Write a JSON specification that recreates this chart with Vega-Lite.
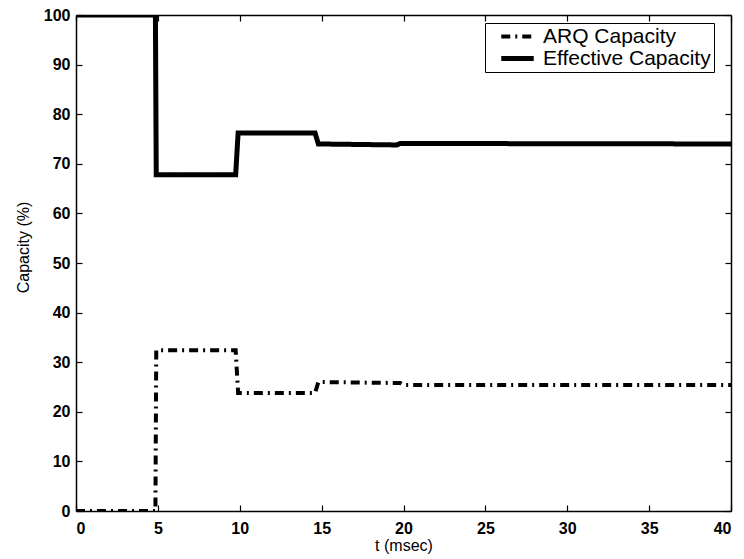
{
  "$schema": "https://vega.github.io/schema/vega-lite/v6.json",
  "width": 655,
  "height": 496,
  "autosize": {"type": "none"},
  "padding": {"left": 76, "top": 15, "right": 13, "bottom": 48},
  "background": "white",
  "config": {
    "view": {"stroke": null},
    "axis": {
      "labelFont": "Liberation Sans",
      "titleFont": "Liberation Sans",
      "labelFontSize": 16,
      "titleFontSize": 16,
      "labelFontWeight": "bold",
      "titleFontWeight": "normal",
      "labelColor": "black",
      "titleColor": "black",
      "domainColor": "black",
      "domainWidth": 1.5,
      "tickColor": "black",
      "tickWidth": 1.2,
      "grid": false
    }
  },
  "data": {"values": [
    {"t": 0, "v": 100, "s": "Effective Capacity"},
    {"t": 4.85, "v": 100, "s": "Effective Capacity"},
    {"t": 4.9, "v": 67.8, "s": "Effective Capacity"},
    {"t": 9.75, "v": 67.8, "s": "Effective Capacity"},
    {"t": 9.9, "v": 76.2, "s": "Effective Capacity"},
    {"t": 14.6, "v": 76.2, "s": "Effective Capacity"},
    {"t": 14.8, "v": 74.0, "s": "Effective Capacity"},
    {"t": 19.6, "v": 73.8, "s": "Effective Capacity"},
    {"t": 19.8, "v": 74.1, "s": "Effective Capacity"},
    {"t": 40, "v": 74.0, "s": "Effective Capacity"},
    {"t": 0, "v": 0, "s": "ARQ Capacity"},
    {"t": 4.85, "v": 0, "s": "ARQ Capacity"},
    {"t": 4.9, "v": 32.4, "s": "ARQ Capacity"},
    {"t": 9.75, "v": 32.4, "s": "ARQ Capacity"},
    {"t": 9.9, "v": 23.8, "s": "ARQ Capacity"},
    {"t": 14.6, "v": 23.8, "s": "ARQ Capacity"},
    {"t": 14.8, "v": 26.0, "s": "ARQ Capacity"},
    {"t": 19.8, "v": 25.8, "s": "ARQ Capacity"},
    {"t": 20.0, "v": 25.4, "s": "ARQ Capacity"},
    {"t": 40, "v": 25.4, "s": "ARQ Capacity"}
  ]},
  "layer": [
    {
      "mark": {"type": "line", "color": "black", "clip": true},
      "encoding": {
        "x": {"field": "t", "type": "quantitative", "scale": {"domain": [0, 40], "nice": false, "zero": false},
              "axis": {"title": "t (msec)", "values": [0,5,10,15,20,25,30,35,40], "tickSize": -6, "labelPadding": 15, "titlePadding": 1}},
        "y": {"field": "v", "type": "quantitative", "scale": {"domain": [0, 100], "nice": false},
              "axis": {"title": "Capacity (%)", "values": [0,10,20,30,40,50,60,70,80,90,100], "tickSize": -6, "labelPadding": 12, "titlePadding": 12, "titleY": 232}},
        "strokeDash": {"field": "s", "type": "nominal",
          "scale": {"domain": ["ARQ Capacity", "Effective Capacity"], "range": [[9, 5, 2, 5], [1, 0]]},
          "legend": {"title": null, "orient": "none", "legendX": 409, "legendY": 8,
                     "strokeColor": "black", "fillColor": "white", "padding": 3,
                     "labelFont": "Liberation Sans", "labelFontSize": 21, "labelColor": "black",
                     "labelLimit": 400,
                     "labelExpr": "datum.label + '\u00a0\u00a0\u00a0\u00a0'",
                     "symbolType": "M-2.6,0H2.6", "symbolSize": 156, "symbolStrokeColor": "black", "symbolStrokeWidth": 4,
                     "symbolOffset": 19, "rowPadding": 0, "labelOffset": 15}},
        "strokeWidth": {"field": "s", "type": "nominal",
          "scale": {"domain": ["ARQ Capacity", "Effective Capacity"], "range": [4, 5]}, "legend": null}
      }
    },
    {
      "mark": {"type": "line", "opacity": 0},
      "encoding": {
        "x": {"field": "t", "type": "quantitative", "scale": {"domain": [0, 40], "nice": false, "zero": false},
              "axis": {"orient": "top", "title": null, "labels": false, "values": [0,5,10,15,20,25,30,35,40], "tickSize": -6}},
        "y": {"field": "v", "type": "quantitative", "scale": {"domain": [0, 100], "nice": false},
              "axis": {"orient": "right", "title": null, "labels": false, "values": [0,10,20,30,40,50,60,70,80,90,100], "tickSize": -6}}
      }
    }
  ],
  "resolve": {"axis": {"x": "independent", "y": "independent"}}
}
